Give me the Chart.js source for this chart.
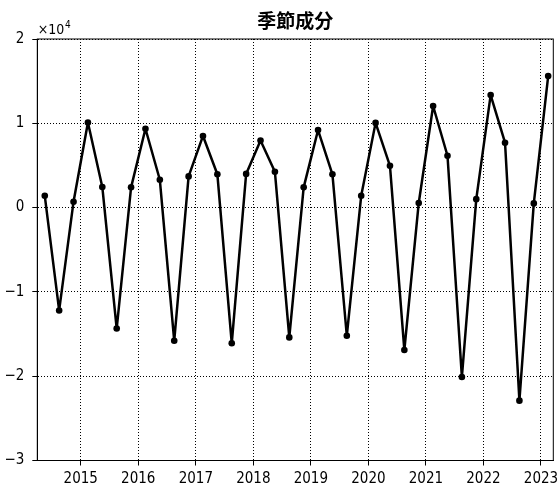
<!DOCTYPE html>
<html>
<head>
<meta charset="utf-8">
<script src="https://cdn.jsdelivr.net/npm/chart.js@4/dist/chart.umd.min.js"></script>
<style>
  html, body { margin: 0; padding: 0; background: #fff; }
  #wrap { width: 557px; height: 487px; position: relative; }
</style>
</head>
<body>
<div id="wrap"><canvas id="chart"></canvas></div>
<script>
"use strict";

// quarters (mid-quarter dates) and seasonal component values
var quarters = [
    "2014-05", "2014-08", "2014-11",
    "2015-02", "2015-05", "2015-08", "2015-11",
    "2016-02", "2016-05", "2016-08", "2016-11",
    "2017-02", "2017-05", "2017-08", "2017-11",
    "2018-02", "2018-05", "2018-08", "2018-11",
    "2019-02", "2019-05", "2019-08", "2019-11",
    "2020-02", "2020-05", "2020-08", "2020-11",
    "2021-02", "2021-05", "2021-08", "2021-11",
    "2022-02", "2022-05", "2022-08", "2022-11",
    "2023-02"
];
var seasonal = [
    1400, -12200, 700,
    10100, 2450, -14350, 2400,
    9350, 3300, -15800, 3700,
    8500, 3950, -16100, 4000,
    7950, 4250, -15400, 2400,
    9200, 3950, -15200, 1400,
    10050, 4950, -16900, 550,
    12050, 6150, -20100, 1000,
    13350, 7700, -22900, 500,
    15600
];
var yearTicks = [2015, 2016, 2017, 2018, 2019, 2020, 2021, 2022, 2023];
var titleText = "季節成分";

var tickFont = "'Liberation Sans Narrow', 'DejaVu Sans Condensed', 'Noto Sans CJK JP', sans-serif";

// "2014-05" -> decimal year at the middle of that month
function toYear(q) {
    var parts = q.split("-");
    return Number(parts[0]) + (Number(parts[1]) - 0.5) / 12;
}

var points = quarters.map(function (q, i) {
    return { x: toYear(q), y: seasonal[i] };
});

// box round the plot and the x10^4 exponent label
var boxPlugin = {
    id: "box",
    afterDraw: function (chart) {
        var ctx = chart.ctx, a = chart.chartArea;
        ctx.save();
        ctx.strokeStyle = "#000";
        ctx.lineWidth = 1;
        ctx.strokeRect(a.left, a.top, a.right - a.left, a.bottom - a.top);
        ctx.fillStyle = "#000";
        ctx.textBaseline = "alphabetic";
        ctx.textAlign = "left";
        ctx.font = "14px " + tickFont;
        ctx.fillText("×10", a.left + 0.5, a.top - 5.5);
        var w = ctx.measureText("×10").width;
        ctx.font = "10px " + tickFont;
        ctx.fillText("4", a.left + 0.5 + w + 0.5, a.top - 11.5);
        ctx.restore();
    }
};

var ctx = document.getElementById("chart").getContext("2d");
window.seasonalChart = new Chart(ctx, {
    type: "line",
    data: {
        datasets: [{
            data: points,
            borderColor: "#000",
            backgroundColor: "#000",
            borderWidth: 2.5,
            borderJoinStyle: "round",
            pointRadius: 3.3,
            pointHoverRadius: 3.3,
            pointBackgroundColor: "#000",
            pointBorderColor: "#000",
            pointBorderWidth: 0,
            tension: 0,
            fill: false
        }]
    },
    options: {
        responsive: true,
        maintainAspectRatio: false,
        animation: false,
        layout: { padding: { left: 0, right: 3.7, top: 0, bottom: 0 } },
        plugins: {
            legend: { display: false },
            tooltip: { enabled: false },
            title: {
                display: true,
                text: titleText,
                fullSize: false,
                color: "#000",
                font: { family: "'Noto Sans CJK JP', sans-serif", size: 19, weight: "bold", lineHeight: 1.2 },
                padding: { top: 9.5, bottom: 6.7 }
            }
        },
        scales: {
            x: {
                type: "linear",
                min: 2014.245,
                max: 2023.214,
                afterBuildTicks: function (scale) {
                    scale.ticks = yearTicks.map(function (v) { return { value: v }; });
                },
                afterFit: function (scale) {
                    scale.height = 26.5;
                    scale.paddingLeft = 0;
                    scale.paddingRight = 0;
                },
                grid: {
                    color: "#000",
                    lineWidth: 1,
                    tickLength: 5,
                    tickColor: "#000",
                    tickBorderDash: []
                },
                border: { display: true, color: "#000", dash: [1, 2] },
                ticks: {
                    color: "#000",
                    padding: 5,
                    maxRotation: 0,
                    autoSkip: false,
                    font: { family: tickFont, size: 15 },
                    callback: function (v) { return String(v); }
                }
            },
            y: {
                min: -30000,
                max: 20000,
                afterFit: function (scale) {
                    scale.width = 37.3;
                    scale.paddingTop = 0;
                    scale.paddingBottom = 0;
                },
                grid: {
                    color: "#000",
                    lineWidth: 1,
                    tickLength: 5,
                    tickColor: "#000",
                    tickBorderDash: []
                },
                border: { display: true, color: "#000", dash: [1, 2] },
                ticks: {
                    stepSize: 10000,
                    color: "#000",
                    padding: 8,
                    font: { family: tickFont, size: 15 },
                    callback: function (v) {
                        var n = v / 10000;
                        return n < 0 ? "−" + Math.abs(n) : String(n);
                    }
                }
            }
        }
    },
    plugins: [boxPlugin]
});
</script>
</body>
</html>
